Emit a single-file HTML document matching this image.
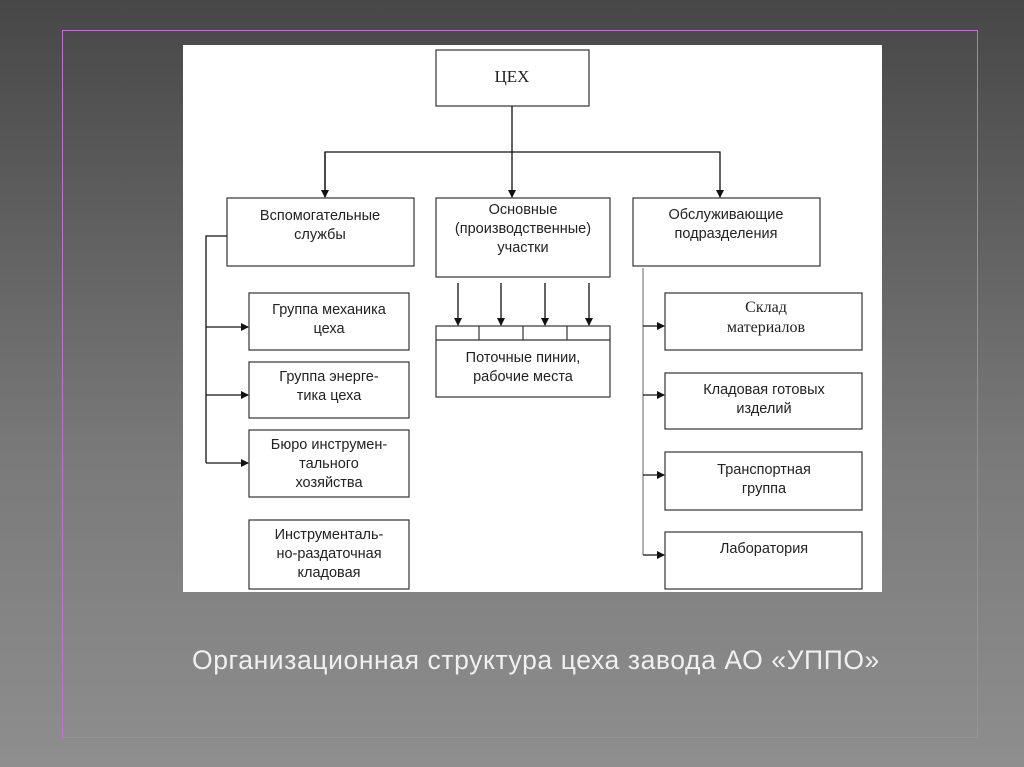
<!DOCTYPE html>
<html><head><meta charset="utf-8"><style>
body{margin:0;width:1024px;height:767px;overflow:hidden;background:linear-gradient(#474747,#7a7a7a 60%,#8e8e8e);font-family:"Liberation Sans",sans-serif;position:relative}
.frame{position:absolute;left:62px;top:30px;width:914px;height:706px;border:1.5px solid #c070d0}
.panel{position:absolute;left:183px;top:45px;width:699px;height:547px;background:#fff}
.cap{position:absolute;left:192px;width:720px;white-space:nowrap;top:645px;font-size:26.5px;letter-spacing:0.6px;color:#f0f0f0;font-family:"Liberation Sans",sans-serif}
</style></head><body>
<div class="frame"></div>
<div class="panel"></div>
<svg width="1024" height="767" style="position:absolute;left:0;top:0" font-family="Liberation Sans, sans-serif" font-size="14.5" text-anchor="middle" fill="#222">
<defs><marker id="a" markerWidth="8" markerHeight="8" refX="7" refY="4" orient="auto" markerUnits="userSpaceOnUse"><path d="M0,0 L8,4 L0,8z" fill="#111"/></marker></defs>
<g fill="none" stroke="#333" stroke-width="1.2">
<rect x="436" y="50" width="153" height="56"/>
<rect x="227" y="198" width="187" height="68"/>
<rect x="436" y="198" width="174" height="79"/>
<rect x="633" y="198" width="187" height="68"/>
<rect x="249" y="293" width="160" height="57"/>
<rect x="249" y="362" width="160" height="56"/>
<rect x="249" y="430" width="160" height="67"/>
<rect x="249" y="520" width="160" height="69"/>
<rect x="436" y="326" width="174" height="71"/>
<line x1="436" y1="340" x2="610" y2="340"/>
<line x1="479" y1="326" x2="479" y2="340"/><line x1="523" y1="326" x2="523" y2="340"/><line x1="567" y1="326" x2="567" y2="340"/>
<rect x="665" y="293" width="197" height="57"/>
<rect x="665" y="373" width="197" height="56"/>
<rect x="665" y="452" width="197" height="58"/>
<rect x="665" y="532" width="197" height="57"/>
</g>
<g stroke="#111" stroke-width="1.3" fill="none">
<line x1="512" y1="106" x2="512" y2="197" marker-end="url(#a)"/>
<polyline points="325,197 325,152 720,152 720,197" marker-end="url(#a)"/>
<line x1="325" y1="152" x2="325" y2="197" marker-end="url(#a)"/>
<polyline points="227,236 206,236 206,463"/>
<line x1="206" y1="327" x2="248" y2="327" marker-end="url(#a)"/>
<line x1="206" y1="395" x2="248" y2="395" marker-end="url(#a)"/>
<line x1="206" y1="463" x2="248" y2="463" marker-end="url(#a)"/>
<line x1="458" y1="283" x2="458" y2="325" marker-end="url(#a)"/>
<line x1="501" y1="283" x2="501" y2="325" marker-end="url(#a)"/>
<line x1="545" y1="283" x2="545" y2="325" marker-end="url(#a)"/>
<line x1="589" y1="283" x2="589" y2="325" marker-end="url(#a)"/>
<line x1="643" y1="268" x2="643" y2="555" stroke="#888"/>
<line x1="643" y1="326" x2="664" y2="326" marker-end="url(#a)"/>
<line x1="643" y1="395" x2="664" y2="395" marker-end="url(#a)"/>
<line x1="643" y1="475" x2="664" y2="475" marker-end="url(#a)"/>
<line x1="643" y1="555" x2="664" y2="555" marker-end="url(#a)"/>
</g>
<text x="512" y="82" font-family="Liberation Serif, serif" font-size="17">ЦЕХ</text>
<text x="320" y="220">Вспомогательные</text><text x="320" y="239">службы</text>
<text x="523" y="214">Основные</text><text x="523" y="233">(производственные)</text><text x="523" y="252">участки</text>
<text x="726" y="219">Обслуживающие</text><text x="726" y="238">подразделения</text>
<text x="329" y="314">Группа механика</text><text x="329" y="333">цеха</text>
<text x="329" y="381">Группа энерге-</text><text x="329" y="400">тика  цеха</text>
<text x="329" y="449">Бюро инструмен-</text><text x="329" y="468">тального</text><text x="329" y="487">хозяйства</text>
<text x="329" y="539">Инструменталь-</text><text x="329" y="558">но-раздаточная</text><text x="329" y="577">кладовая</text>
<text x="523" y="362">Поточные пинии,</text><text x="523" y="381">рабочие места</text>
<text x="766" y="312" font-family="Liberation Serif, serif" font-size="16">Склад</text><text x="766" y="332" font-family="Liberation Serif, serif" font-size="16">материалов</text>
<text x="764" y="394">Кладовая готовых</text><text x="764" y="413">изделий</text>
<text x="764" y="474">Транспортная</text><text x="764" y="493">группа</text>
<text x="764" y="553">Лаборатория</text>
</svg>
<div class="cap">Организационная структура цеха завода АО «УППО»</div>
</body></html>
